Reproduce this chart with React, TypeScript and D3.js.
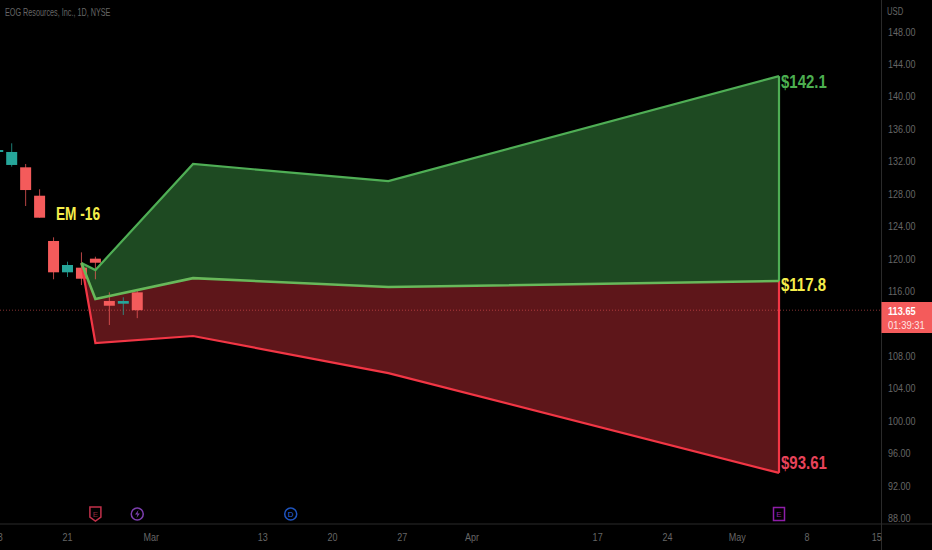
import * as d3 from "d3";
import React from "react";

// bar index 0 = Feb 21
const candleBars = [-5, -4, -3, -2, -1, 0, 1, 2, 3, 4, 5];
const opens = [133.15, 131.55, 131.26, 127.76, 122.18, 118.32, 118.89, 120.0, 114.78, 114.45, 115.85];
const closes = [133.39, 133.15, 128.46, 125.05, 118.32, 119.22, 117.53, 119.5, 114.2, 114.78, 113.65];
const highs = [133.5, 134.22, 131.67, 128.55, 122.63, 119.63, 120.78, 120.24, 115.85, 115.24, 116.14];
const lows = [133.05, 131.34, 126.49, 125.05, 117.46, 117.74, 116.75, 117.46, 111.82, 113.06, 112.67];

const zoneBars = [1, 2, 9, 23, 51];
const upperValues = [119.47, 118.6, 131.67, 129.57, 142.5];
const middleValues = [119.47, 115.03, 117.6, 116.5, 117.25];
const lowerValues = [119.47, 109.6, 110.47, 105.9, 93.6];

const priceTicks = [148, 144, 140, 136, 132, 128, 124, 120, 116, 108, 104, 100, 96, 92, 88];
const dateTickBars = [-5, 0, 6, 14, 19, 24, 29, 38, 43, 48, 53, 58];
const dateTickLabels = ["13", "21", "Mar", "13", "20", "27", "Apr", "17", "24", "May", "8", "15"];

const lastPrice = 113.65;
const countdown = "01:39:31";
const title = "EOG Resources, Inc., 1D, NYSE";

const width = 932;
const height = 550;
const axisX = 881.5;
const axisY = 524;
const font = "'Liberation Sans', sans-serif";
const up = "#26a69a";
const down = "#f45b5b";
const gray = "#666666";
const green = "#4fae55";
const midGreen = "#68b85a";
const red = "#f23645";

const x = d3.scaleLinear().domain([0, 51]).range([67.5, 779]);
const y = d3.scaleLinear().domain([88, 148]).range([518.3, 31.5]);

const zone = zoneBars.map((bar, i) => ({
  bar,
  upper: upperValues[i],
  middle: middleValues[i],
  lower: lowerValues[i],
}));
type Row = (typeof zone)[number];

const greenArea = d3.area<Row>().x((d) => x(d.bar)).y0((d) => y(d.middle)).y1((d) => y(d.upper));
const redArea = d3.area<Row>().x((d) => x(d.bar)).y0((d) => y(d.lower)).y1((d) => y(d.middle));
const upperLine = d3.line<Row>().x((d) => x(d.bar)).y((d) => y(d.upper));
const middleLine = d3.line<Row>().x((d) => x(d.bar)).y((d) => y(d.middle));
const lowerLine = d3.line<Row>().x((d) => x(d.bar)).y((d) => y(d.lower));

const endBar = zoneBars[zoneBars.length - 1];
const endX = x(endBar);
const endUpper = upperValues[upperValues.length - 1];
const endMiddle = middleValues[middleValues.length - 1];
const endLower = lowerValues[lowerValues.length - 1];

// the chart's font is narrow, no narrow family is installed so squeeze it
function Narrow({ x: tx, y: ty, sx, children, ...rest }: any) {
  return (
    <text transform={`translate(${tx},${ty}) scale(${sx},1)`} {...rest}>
      {children}
    </text>
  );
}

export default function App() {
  const markerY = 514;
  return (
    <svg
      width={width}
      height={height}
      style={{ position: "absolute", left: 0, top: 0, background: "#000", fontFamily: font }}
    >
      <defs>
        <clipPath id="plot">
          <rect x={0} y={0} width={axisX} height={axisY} />
        </clipPath>
      </defs>
      <rect width={width} height={height} fill="#000" />

      {/* zones */}
      <path d={redArea(zone) || ""} fill="#5e161a" />
      <path d={greenArea(zone) || ""} fill="#1e4a22" />

      {/* last price line */}
      <line x1={0} x2={axisX} y1={y(lastPrice)} y2={y(lastPrice)} stroke="#f45b5b" strokeOpacity={0.55} strokeWidth={1} strokeDasharray="1 2" />

      {/* candles */}
      <g clipPath="url(#plot)">
        {candleBars.map((bar, i) => {
          const color = closes[i] >= opens[i] ? up : down;
          const top = y(Math.max(opens[i], closes[i]));
          const bottom = y(Math.min(opens[i], closes[i]));
          return (
            <g key={bar}>
              <line x1={x(bar)} x2={x(bar)} y1={y(highs[i])} y2={y(lows[i])} stroke={color} strokeOpacity={0.75} strokeWidth={1} />
              <rect x={x(bar) - 5.5} y={top} width={11} height={Math.max(bottom - top, 1)} fill={color} />
            </g>
          );
        })}
      </g>

      {/* zone outlines */}
      <path d={lowerLine(zone) || ""} fill="none" stroke={red} strokeWidth={2.2} />
      <line x1={endX} x2={endX} y1={y(endMiddle)} y2={y(endLower)} stroke={red} strokeWidth={2.2} />
      <path d={upperLine(zone) || ""} fill="none" stroke={green} strokeWidth={2.2} />
      <line x1={endX} x2={endX} y1={y(endUpper)} y2={y(endMiddle)} stroke={green} strokeWidth={2.2} />
      <path d={middleLine(zone) || ""} fill="none" stroke={midGreen} strokeWidth={2.6} />

      {/* labels */}
      <g fontWeight={700} fontSize={18.5}>
        <Narrow x={56} y={220} sx={0.76} fontSize={18} fill="#f5ee4b">EM -16</Narrow>
        <Narrow x={781} y={y(endUpper) + 12} sx={0.81} fill="#4caf50">$142.1</Narrow>
        <Narrow x={781} y={y(endMiddle) + 10} sx={0.81} fill="#f5ee4b">$117.8</Narrow>
        <Narrow x={781} y={y(endLower) - 4} sx={0.81} fill="#e8435a">$93.61</Narrow>
      </g>

      <Narrow x={5} y={16} sx={0.69} fontSize={10.5} fill={gray}>{title}</Narrow>

      {/* axes */}
      <line x1={axisX} x2={axisX} y1={0} y2={height} stroke="#2a2a2a" />
      <line x1={0} x2={width} y1={axisY} y2={axisY} stroke="#2a2a2a" />
      <Narrow x={887} y={15} sx={0.7} fontSize={11} fill={gray}>USD</Narrow>
      {priceTicks.map((tick) => (
        <Narrow key={tick} x={888} y={y(tick) + 4} sx={0.82} fontSize={11} fill={gray}>
          {tick.toFixed(2)}
        </Narrow>
      ))}
      {dateTickBars.map((bar, i) => (
        <Narrow key={bar} x={x(bar)} y={541} sx={0.82} fontSize={11} fill={gray} textAnchor="middle">
          {dateTickLabels[i]}
        </Narrow>
      ))}

      {/* last price tag */}
      <rect x={axisX} y={302} width={width - axisX} height={31} fill={down} />
      <Narrow x={888} y={315} sx={0.8} fontSize={11.5} fontWeight={700} fill="#fff">{lastPrice.toFixed(2)}</Narrow>
      <Narrow x={888} y={329} sx={0.86} fontSize={11} fill="#ffe3e3">{countdown}</Narrow>

      {/* event markers */}
      <g fontSize={8} textAnchor="middle" fill="none" strokeWidth={1.5}>
        <path d={`M${x(2) - 5.5},${markerY - 7}h11v10l-5.5,4l-5.5,-4z`} stroke="#c2304a" />
        <text x={x(2)} y={markerY + 2.5} fill="#8c2a3c">E</text>
        <circle cx={x(5)} cy={markerY} r={6} stroke="#7e3fb0" />
        <path
          d={`M${x(5) + 1.2},${markerY - 4}l-3.4,4.6h2.4l-1,3.4l3.4,-4.6h-2.4z`}
          fill="#7e3fb0"
          stroke="none"
        />
        <circle cx={x(16)} cy={markerY} r={6} stroke="#1f55c0" />
        <text x={x(16)} y={markerY + 2.8} fill="#2f6ae0">D</text>
        <rect x={endX - 5.5} y={markerY - 6.5} width={11} height={13} stroke="#8e1ea8" />
        <text x={endX} y={markerY + 2.8} fill="#8e1ea8">E</text>
      </g>
    </svg>
  );
}
